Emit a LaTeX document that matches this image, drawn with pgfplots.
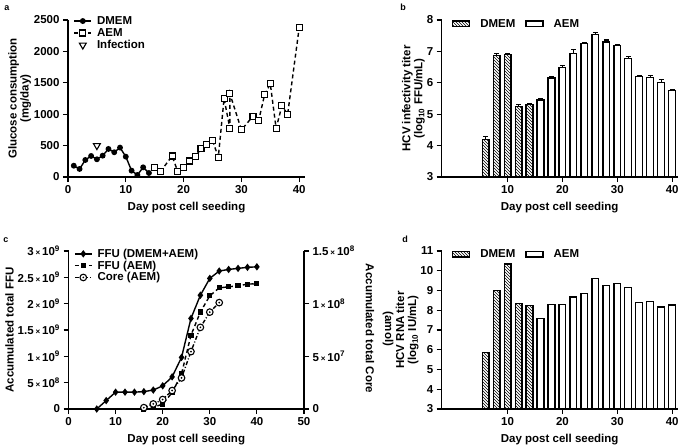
\documentclass[border=0pt]{standalone}
\usepackage{fontspec}
\setmainfont{Liberation Sans}
\usepackage{pgfplots}
\pgfplotsset{compat=1.18}
\usetikzlibrary{patterns}

% open circle with a dot in it
\pgfdeclareplotmark{odot}{%
  \pgfsetfillcolor{white}%
  \pgfpathcircle{\pgfpointorigin}{\pgfplotmarksize}\pgfusepathqfillstroke
  \pgfsetfillcolor{black}%
  \pgfpathcircle{\pgfpointorigin}{0.3\pgfplotmarksize}\pgfusepathqfill}

\newcommand\fs{\fontsize{11.5}{12}\selectfont\bfseries}
\newcommand\tx{\,{\fontsize{8}{8}\selectfont ×}\,}

\pgfplotsset{
  gp/.style={
    scale only axis, anchor=south west,
    axis lines*=left, axis line style={-, line width=1.3pt},
    tick align=outside, major tick length=5pt,
    tick style={black, line width=1.2pt},
    tick label style={font=\fs}, label style={font=\fs},
    /pgf/number format/assume math mode=true,
    /pgf/number format/1000 sep={},
    scaled ticks=false, enlargelimits=false,
    xlabel={Day post cell seeding},
    xlabel style={yshift=-2pt},
    ylabel style={align=center},
    legend style={draw=none, fill=none, font=\fs,
      /tikz/every odd column/.append style={column sep=3pt}},
    legend cell align=left,
  },
  barp/.style={
    gp, ybar, area legend, bar width=1.25,
    xmin=-2, xmax=41, xtick={10,20,30,40},
    legend columns=2, ylabel shift=-5pt,
    legend style={/tikz/every odd column/.append style={column sep=8pt},
      /tikz/every even column/.append style={column sep=8pt}},
  },
}

\begin{document}
\begin{tikzpicture}
\useasboundingbox (0,0) rectangle (685pt,445pt);

% ---- a ----
\begin{axis}[gp, at={(68pt,268pt)}, width=237pt, height=157pt,
  xmin=0, xmax=41, ymin=0, ymax=2500,
  xtick={0,10,20,30,40}, ytick={0,500,...,2500},
  ylabel={Glucose consumption\\(mg/day)}, ylabel shift=-4pt, clip=false,
  legend style={at={(axis description cs:0.01,1.05)}, anchor=north west,
    row sep=-1.5pt}]
\addplot[black, line width=1.4pt, mark=*, mark size=2.2pt] coordinates {
  (1,180) (2,128) (3,271) (4,335) (5,282) (6,340) (7,447) (8,394)
  (9,468) (10,324) (11,101) (12,32) (13,154) (14,64)};
\addplot[black, line width=1.4pt, dash pattern=on 4pt off 3pt,
  mark=square*, mark size=3pt, mark options={solid, fill=white, line width=1.1pt}]
  coordinates {
  (15,149) (16,85) (18,335) (19,85) (20,149) (21,255) (22,324) (23,447)
  (24,521) (25,585) (26,314) (27,1249) (28,776) (28,1329) (30,750)
  (32,968) (33,904) (34,1308) (35,1483) (36,776) (37,1132) (38,1000) (40,2381)};
\addplot[only marks, mark=triangle, mark size=4pt,
  mark options={rotate=180, line width=1.1pt}] coordinates {(5,500)};
\legend{DMEM, AEM, Infection}
\end{axis}

% ---- b ----
\begin{axis}[barp, at={(441.7pt,268pt)}, width=236pt, height=157pt,
  ymin=3, ymax=8, ytick={3,...,8},
  ylabel={HCV infectivity titer\\(log\textsubscript{10} FFU/mL)},
  legend style={at={(axis description cs:0.03,0.975)}, anchor=west}]
\addplot[bar shift=0pt, draw=black, line width=1.2pt, pattern=north west lines,
  error bars/.cd, y dir=plus, y explicit,
  error bar style={line width=1.2pt, solid},
  error mark options={rotate=90, mark size=2.4pt, line width=1.2pt}]
  coordinates {
  (6,4.20) +- (0,0.10) (8,6.87) +- (0,0.06) (10,6.90) +- (0,0.04)
  (12,5.25) +- (0,0.06) (14,5.30) +- (0,0.03)};
\addplot[bar shift=0pt, draw=black, fill=white, line width=1.2pt,
  error bars/.cd, y dir=plus, y explicit,
  error bar style={line width=1.2pt},
  error mark options={rotate=90, mark size=2.4pt, line width=1.2pt}]
  coordinates {
  (16,5.45) +- (0,0.05) (18,6.15) +- (0,0.04) (20,6.50) +- (0,0.04)
  (22,6.94) +- (0,0.12) (24,7.25) +- (0,0.03) (26,7.54) +- (0,0.05)
  (28,7.30) +- (0,0.06) (30,7.20) +- (0,0.03) (32,6.78) +- (0,0.06)
  (34,6.20) +- (0,0.03) (36,6.17) +- (0,0.07) (38,6.02) +- (0,0.09)
  (40,5.76) +- (0,0.03)};
\legend{DMEM, AEM}
\end{axis}

% ---- c ----
\begin{axis}[gp, at={(68.5pt,36pt)}, width=235.5pt, height=158pt,
  xmin=0, xmax=50, ymin=0, ymax=3e9,
  xtick={0,10,20,30,40,50},
  ytick={0,5e8,1e9,1.5e9,2e9,2.5e9,3e9},
  yticklabels={0, 5\tx10\textsuperscript{8}, 1\tx10\textsuperscript{9},
    1.5\tx10\textsuperscript{9}, 2\tx10\textsuperscript{9},
    2.5\tx10\textsuperscript{9}, 3\tx10\textsuperscript{9}},
  ylabel={Accumulated total FFU}, ylabel shift=-3pt, clip=false,
  legend style={at={(axis description cs:0.01,1.04)}, anchor=north west,
    row sep=-2pt}]
\addplot[black, line width=1.4pt, mark=diamond*, mark size=2.6pt] coordinates {
  (6,0) (8,0.16e9) (10,0.32e9) (12,0.32e9) (14,0.32e9) (16,0.33e9)
  (18,0.36e9) (20,0.44e9) (22,0.61e9) (24,0.98e9) (26,1.72e9) (28,2.16e9)
  (30,2.48e9) (32,2.62e9) (34,2.65e9) (36,2.67e9) (38,2.69e9) (40,2.70e9)};
\addplot[black, line width=1.4pt, dash pattern=on 4pt off 3pt,
  mark=square*, mark size=1.9pt, mark options={solid}] coordinates {
  (16,0) (18,0.03e9) (20,0.095e9) (22,0.31e9) (24,0.67e9) (26,1.40e9)
  (28,1.84e9) (30,2.15e9) (32,2.30e9) (34,2.32e9) (36,2.34e9) (38,2.37e9)
  (40,2.38e9)};
\addlegendimage{black, line width=1.4pt, dash pattern=on 4pt off 2pt on 1pt off 2pt,
  mark=odot, mark size=3.3pt, mark options={solid, line width=1.1pt}}
\legend{FFU (DMEM+AEM), FFU (AEM), Core (AEM)}
\end{axis}
\begin{axis}[gp, at={(68.5pt,36pt)}, width=235.5pt, height=158pt,
  axis x line=none, axis y line*=right, xlabel={},
  xmin=0, xmax=50, ymin=0, ymax=1.5e8,
  ytick={0,5e7,1e8,1.5e8},
  yticklabels={0, 5\tx10\textsuperscript{7}, 1\tx10\textsuperscript{8},
    1.5\tx10\textsuperscript{8}}, clip=false]
\addplot[black, line width=1.4pt, dash pattern=on 4pt off 2pt on 1pt off 2pt,
  mark=odot, mark size=3.3pt, mark options={solid, line width=1.1pt}] coordinates {
  (16,0.13e7) (18,0.48e7) (20,0.9e7) (22,1.75e7) (24,2.95e7) (26,5.45e7)
  (28,7.75e7) (30,9.2e7) (32,10.1e7)};
\end{axis}
% right-hand axis title, read top to bottom
\node[rotate=-90, font=\fs] at (370pt,116.5pt) {Accumulated total Core};
\node[rotate=-90, font=\fs] at (388pt,116pt) {(amol)};

% ---- d ----
\begin{axis}[barp, at={(441.7pt,36pt)}, width=236pt, height=158pt,
  ymin=3, ymax=11, ytick={3,...,11},
  ylabel={HCV RNA titer\\(log\textsubscript{10} IU/mL)},
  legend style={at={(axis description cs:0.03,0.98)}, anchor=west}]
\addplot[bar shift=0pt, draw=black, line width=1.2pt, pattern=north west lines]
  coordinates {(6,5.87) (8,8.99) (10,10.34) (12,8.35) (14,8.23)};
\addplot[bar shift=0pt, draw=black, fill=white, line width=1.2pt] coordinates {
  (16,7.59) (18,8.28) (20,8.28) (22,8.67) (24,8.86) (26,9.60) (28,9.24)
  (30,9.35) (32,9.14) (34,8.40) (36,8.45) (38,8.16) (40,8.27)};
\legend{DMEM, AEM}
\end{axis}

% panel letters
\node[font=\fontsize{9}{9}\selectfont\bfseries] at (7pt,437pt) {a};
\node[font=\fontsize{9}{9}\selectfont\bfseries] at (403pt,438pt) {b};
\node[font=\fontsize{9}{9}\selectfont\bfseries] at (6pt,205pt) {c};
\node[font=\fontsize{9}{9}\selectfont\bfseries] at (405pt,206pt) {d};
\end{tikzpicture}
\end{document}
